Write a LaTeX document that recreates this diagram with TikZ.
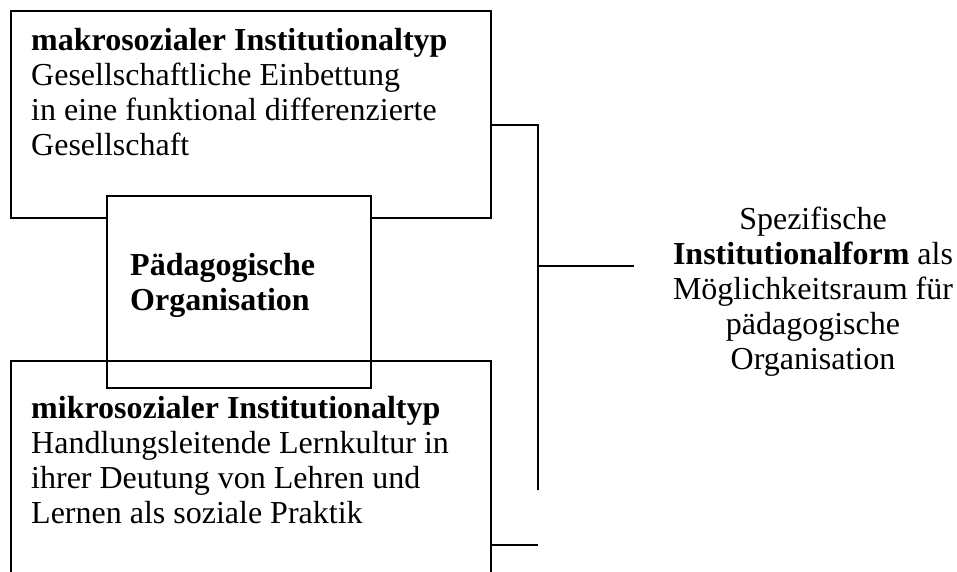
\documentclass[tikz,border=0pt]{standalone}
\usepackage{fontspec}
\setmainfont{Liberation Serif}
\usetikzlibrary{positioning}

\tikzset{
  frame/.style={draw, line width=2pt, inner sep=0pt, anchor=north west},
  txt/.style={inner sep=0pt, anchor=north west, align=left, font=\fontsize{32}{35}\selectfont},
  link/.style={line width=2pt}
}

\begin{document}
\begin{tikzpicture}[x=1pt,y=-1pt]
	\useasboundingbox (0,0) rectangle (957,571);
	\clip (0,0) rectangle (957,571);

	% Institutionaltypen und Organisation
	\node [frame, minimum width=480pt, minimum height=207pt] (makro) at (10,10) {};
	\node [frame, fill=white, minimum width=264pt, minimum height=192pt] (org) at (106,195) {};
	\node [frame, minimum width=480pt, minimum height=240pt] (mikro) at (10,360) {};

	\node [txt] (makrotext) at (31,25.5) {\strut\textbf{makrosozialer Institutionaltyp}\\Gesellschaftliche Einbettung\\in eine funktional differenzierte\\Gesellschaft};
	\node [txt, font=\fontsize{32}{35}\selectfont\bfseries] (orgtext) at (130,250.5) {\strut P\"adagogische\\Organisation};
	\node [txt] (mikrotext) at (31,393.5) {\strut\textbf{mikrosozialer Institutionaltyp}\\Handlungsleitende Lernkultur in\\ihrer Deutung von Lehren und\\Lernen als soziale Praktik};
	\node [txt, anchor=north, align=center] (form) at (813,204.5) {\strut Spezifische\\\textbf{Institutionalform} als\\M\"oglichkeitsraum f\"ur\\p\"adagogische\\Organisation};

	% Klammer
	\coordinate (spinetop) at (538,125);
	\coordinate (spinemid) at (538,266);
	\coordinate (spineend) at (538,490);
	\coordinate (spinefoot) at (538,545);
	\coordinate (formleft) at (634,266);

	\draw [link] (makro.east |- spinetop) -- (spinetop) -- (spineend);
	\draw [link] (spinemid) -- (formleft);
	\draw [link] (mikro.east |- spinefoot) -- (spinefoot);
\end{tikzpicture}
\end{document}
